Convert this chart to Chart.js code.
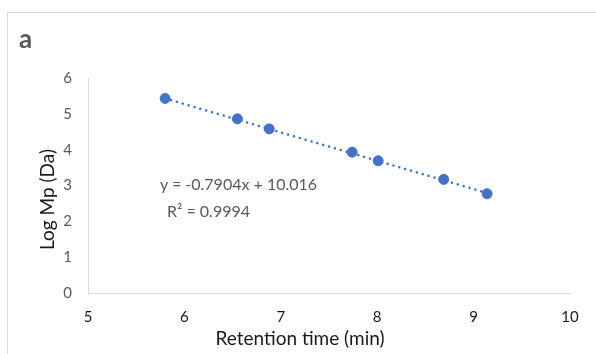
<!DOCTYPE html>
<html lang="en">
<head>
    <meta charset="UTF-8">
    <title>Calibration: Log Mp vs retention time</title>
    <script src="https://cdn.jsdelivr.net/npm/chart.js"></script>
    <style>
        body {
            margin: 0;
            background: #fff;
            font-family: Lato, sans-serif;
        }

        .frame {
            position: absolute;
            left: 7px;
            top: 12px;
            width: 589px;
            height: 342px;
            border-left: 1px solid #d9d9d9;
            border-top: 1px solid #d9d9d9;
        }

        #chart {
            position: absolute;
            left: 0;
            top: 0;
        }

        .note {
            position: absolute;
            color: #595959;
            white-space: nowrap;
            line-height: 20px;
        }

        .panel {
            position: absolute;
            left: 11px;
            top: 10px;
            font-size: 26px;
            font-weight: bold;
            color: #595959;
            line-height: 30px;
        }
    </style>
</head>
<body>

    <div class="frame">
        <canvas id="chart" width="588" height="341"></canvas>
        <div class="panel">a</div>
        <div class="note" id="eq" style="left:152px; top:161px; font-size:16px;"></div>
        <div class="note" id="r2" style="left:159px; top:188px; font-size:16px;"></div>
    </div>

    <script>
        // measured points (retention time in min, log Mp)
        const retention = [5.80, 6.55, 6.88, 7.74, 8.01, 8.69, 9.14];
        const logMp = [5.43, 4.86, 4.58, 3.93, 3.69, 3.17, 2.77];

        // ends of the linear trendline as drawn
        const trendX = [5.80, 9.14];
        const trendY = [5.43, 2.79];

        const eqText = "y = -0.7904x + 10.016";
        const r2Text = "R² = 0.9994";
        const xTitle = "Retention time (min)";
        const yTitle = "Log Mp (Da)";

        const xTicks = [5, 6, 7, 8, 9, 10];
        const yTicks = [0, 1, 2, 3, 4, 5, 6];

        document.getElementById("eq").textContent = eqText;
        document.getElementById("r2").textContent = r2Text;

        const blue = '#4472c4';

        // axis titles are off-centre in the original (Excel), so draw them by hand
        const titlesPlugin = {
            id: 'axisTitles',
            afterDraw(chart) {
                const c = chart.ctx;
                const a = chart.chartArea;
                c.save();
                c.font = '19px Lato';
                c.fillStyle = '#1a1a1a';
                c.textAlign = 'center';
                c.textBaseline = 'middle';
                c.fillText(xTitle, (a.left + a.right) / 2 - 29, a.bottom + 46);
                c.translate(a.left - 40, (a.top + a.bottom) / 2 + 14);
                c.rotate(-Math.PI / 2);
                c.fillText(yTitle, 0, 0);
                c.restore();
            }
        };

        const ctx = document.getElementById('chart').getContext('2d');

        new Chart(ctx, {
            type: 'scatter',
            data: {
                datasets: [{
                    label: 'Log Mp',
                    data: retention.map((x, i) => ({ x: x, y: logMp[i] })),
                    backgroundColor: blue,
                    borderColor: blue,
                    pointRadius: 5,
                    pointHoverRadius: 5,
                    order: 1
                }, {
                    label: 'Linear',
                    type: 'line',
                    data: trendX.map((x, i) => ({ x: x, y: trendY[i] })),
                    borderColor: blue,
                    borderWidth: 2.5,
                    borderDash: [0.1, 6],
                    borderCapStyle: 'round',
                    pointRadius: 0,
                    fill: false,
                    order: 2
                }]
            },
            options: {
                responsive: false,
                animation: false,
                layout: {
                    padding: { left: 0, right: 26, top: 65, bottom: 0 }
                },
                plugins: {
                    legend: { display: false },
                    tooltip: { enabled: false }
                },
                scales: {
                    x: {
                        type: 'linear',
                        min: 5,
                        max: 10,
                        afterBuildTicks: (axis) => {
                            axis.ticks = xTicks.map(v => ({ value: v }));
                        },
                        grid: { drawOnChartArea: false, drawTicks: false },
                        border: { color: '#d9d9d9', width: 1 },
                        ticks: {
                            padding: 15,
                            color: '#1a1a1a',
                            font: { family: 'Lato', size: 15 }
                        },
                        afterFit: (axis) => { axis.height = 61; }
                    },
                    y: {
                        min: 0,
                        max: 6,
                        afterBuildTicks: (axis) => {
                            axis.ticks = yTicks.map(v => ({ value: v }));
                        },
                        grid: { drawOnChartArea: false, drawTicks: false },
                        border: { color: '#d9d9d9', width: 1 },
                        ticks: {
                            padding: 16,
                            color: '#595959',
                            font: { family: 'Lato', size: 15 }
                        },
                        afterFit: (axis) => { axis.width = 80; }
                    }
                }
            },
            plugins: [titlesPlugin]
        });
    </script>

</body>
</html>
